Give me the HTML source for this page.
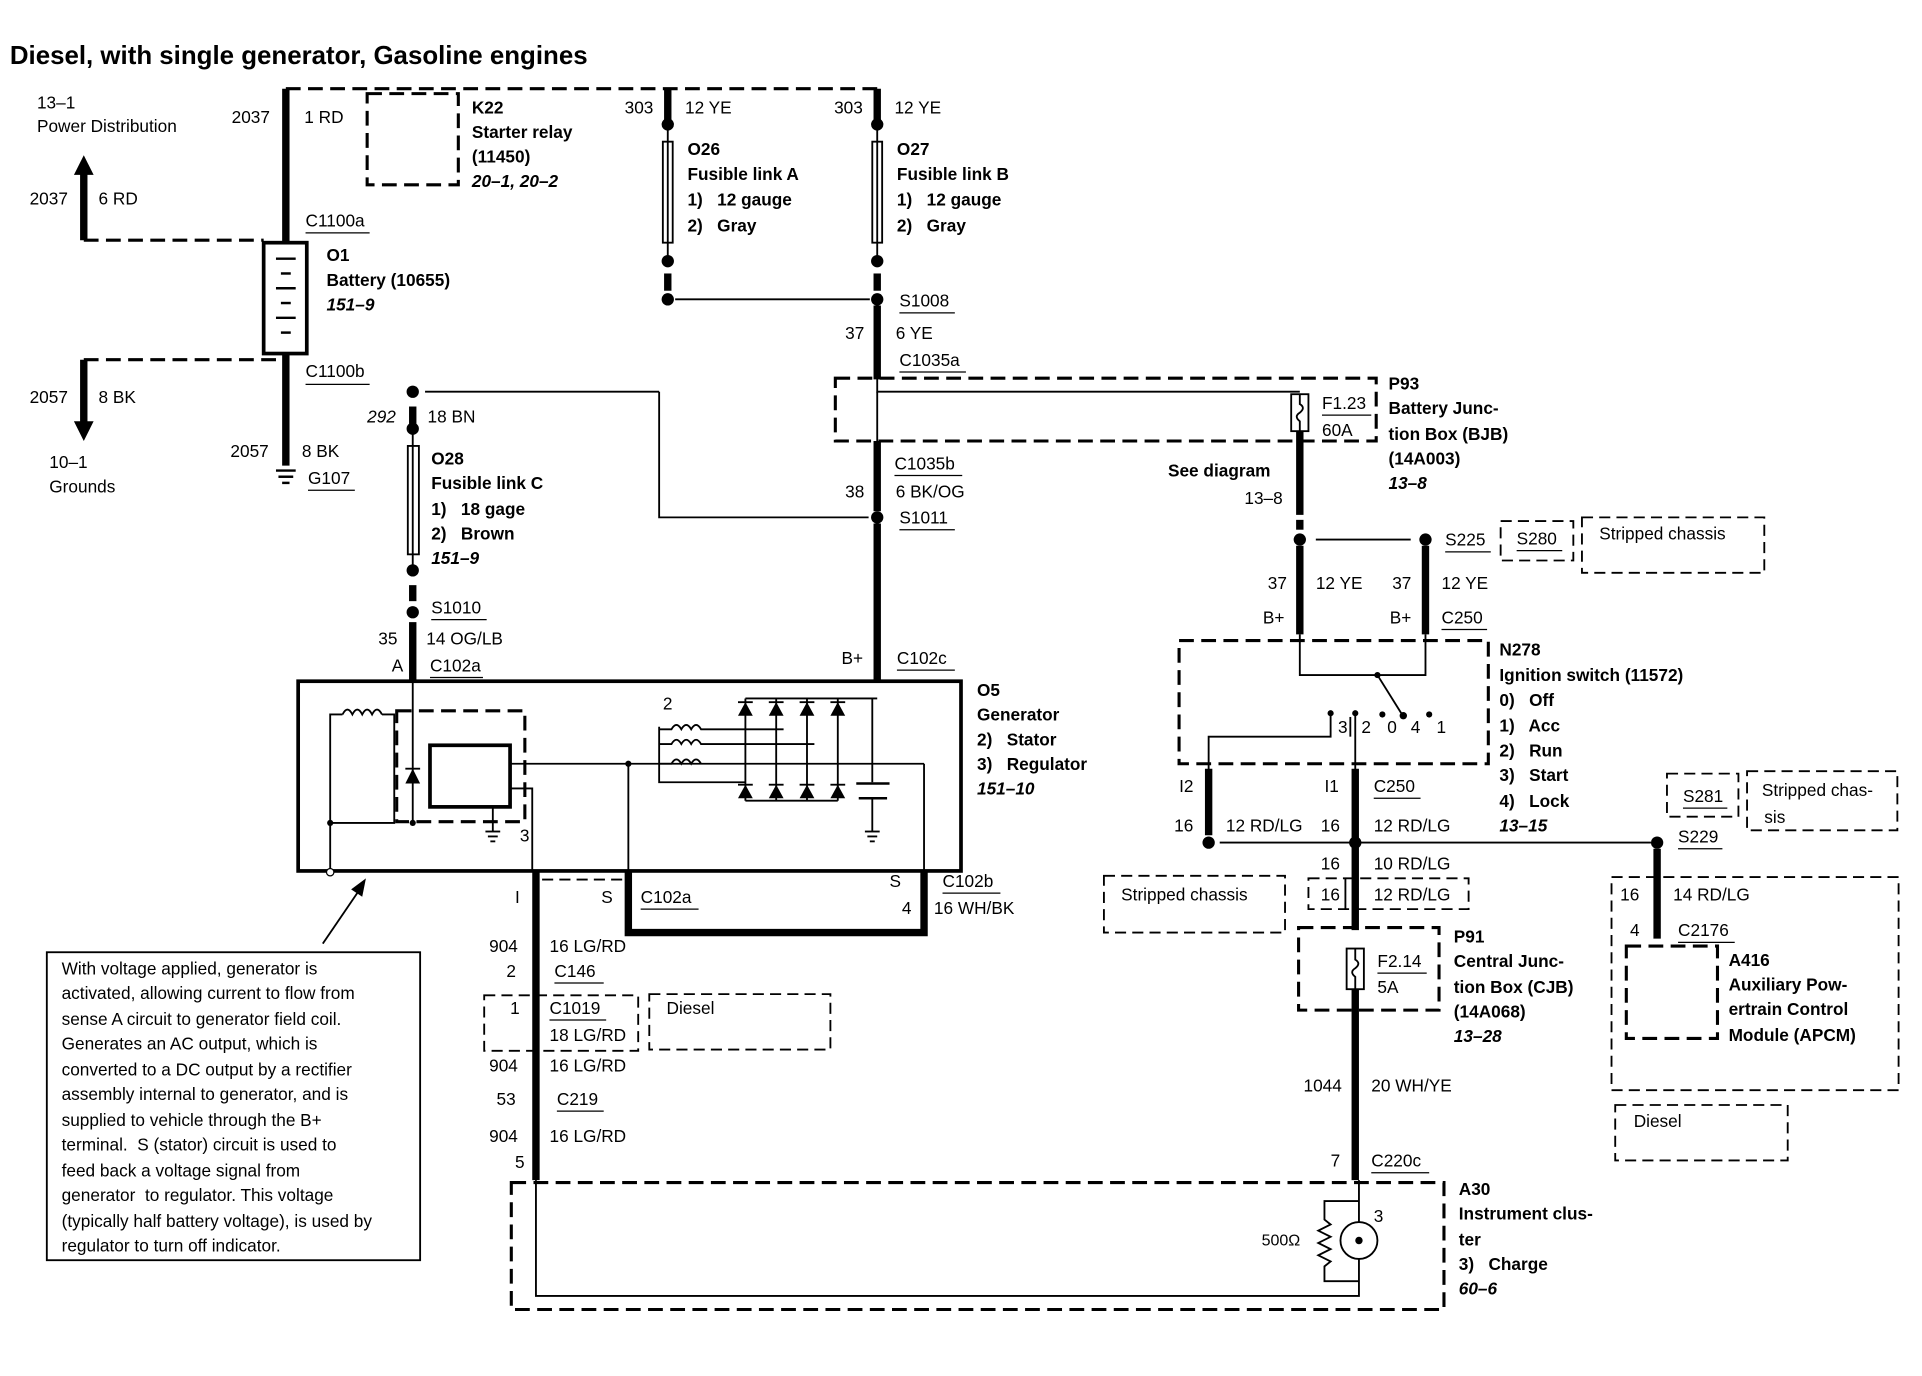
<!DOCTYPE html>
<html><head><meta charset="utf-8"><style>
html,body{margin:0;padding:0;background:#fff;}
svg{display:block}
text{font-family:"Liberation Sans",Arial,sans-serif;font-size:14px;fill:#000;white-space:pre}
.b{font-weight:bold}
.i{font-style:italic;font-weight:bold}
.th{stroke:#000;stroke-width:6;fill:none}
.tn{stroke:#000;stroke-width:1.5;fill:none}
.ds{stroke:#000;stroke-width:2.5;fill:none;stroke-dasharray:12,6}
.dd{stroke:#000;stroke-width:1.5;fill:none;stroke-dasharray:9,5}
.u{stroke:#000;stroke-width:1;}
</style></head><body>
<svg width="1922" height="1376" viewBox="0 0 1560 1117" preserveAspectRatio="none" xmlns="http://www.w3.org/2000/svg">
<text x="8" y="52" class="b" style="font-size:21px">Diesel, with single generator, Gasoline engines</text>

<text x="30" y="88">13–1</text><text x="30" y="107">Power Distribution</text>
<line class="th" x1="68" y1="195" x2="68" y2="140"/><polygon points="60,142 76,142 68,126"/>
<text x="24" y="166">2037</text><text x="80" y="166">6 RD</text>
<line class="ds" x1="68" y1="195" x2="214" y2="195"/>
<line class="th" x1="232" y1="72" x2="232" y2="197"/>
<text x="188" y="100">2037</text><text x="247" y="100">1 RD</text>
<line class="ds" x1="232" y1="72" x2="712" y2="72"/>
<rect class="ds" x="298" y="76" width="74" height="74"/>
<text x="383" y="92" class="b">K22</text><text x="383" y="112" class="b">Starter relay</text><text x="383" y="132" class="b">(11450)</text><text x="383" y="152" class="i">20–1, 20–2</text>
<text x="248" y="184">C1100a</text><line class="u" x1="248" y1="189" x2="300" y2="189"/>
<rect x="214" y="197" width="35" height="90" fill="none" stroke="#000" stroke-width="3"/>
<g stroke="#000" stroke-width="2"><line x1="224" y1="210" x2="240" y2="210"/><line x1="228" y1="222" x2="236" y2="222"/><line x1="224" y1="234" x2="240" y2="234"/><line x1="228" y1="246" x2="236" y2="246"/><line x1="224" y1="258" x2="240" y2="258"/><line x1="228" y1="270" x2="236" y2="270"/></g>
<text x="265" y="212" class="b">O1</text><text x="265" y="232" class="b">Battery (10655)</text><text x="265" y="252" class="i">151–9</text>
<line class="ds" x1="68" y1="292" x2="232" y2="292"/>
<line class="th" x1="68" y1="292" x2="68" y2="344"/><polygon points="60,342 76,342 68,358"/>
<text x="24" y="327">2057</text><text x="80" y="327">8 BK</text>
<text x="40" y="380">10–1</text><text x="40" y="400">Grounds</text>
<text x="248" y="306">C1100b</text><line class="u" x1="248" y1="312" x2="300" y2="312"/>
<line class="th" x1="232" y1="287" x2="232" y2="378"/>
<text x="187" y="371">2057</text><text x="245" y="371">8 BK</text>
<g stroke="#000" stroke-width="2"><line x1="224" y1="382" x2="240" y2="382"/><line x1="226" y1="387" x2="238" y2="387"/><line x1="229" y1="392" x2="235" y2="392"/></g>
<text x="250" y="393">G107</text><line class="u" x1="250" y1="398" x2="288" y2="398"/>

<g>
<line class="th" x1="542" y1="72" x2="542" y2="100"/><circle cx="542" cy="101" r="5"/>
<rect x="538" y="115" width="8" height="82" fill="none" stroke="#000" stroke-width="1.5"/>
<line class="tn" x1="542" y1="101" x2="542" y2="212"/><circle cx="542" cy="212" r="5"/>
<line class="th" x1="542" y1="222" x2="542" y2="236"/><circle cx="542" cy="243" r="5"/>
<text x="507" y="92">303</text><text x="556" y="92">12 YE</text>
<text x="558" y="126" class="b">O26</text><text x="558" y="146" class="b">Fusible link A</text><text x="558" y="167" class="b">1)   12 gauge</text><text x="558" y="188" class="b">2)   Gray</text>
</g>
<g>
<line class="th" x1="712" y1="72" x2="712" y2="100"/><circle cx="712" cy="101" r="5"/>
<rect x="708" y="115" width="8" height="82" fill="none" stroke="#000" stroke-width="1.5"/>
<line class="tn" x1="712" y1="101" x2="712" y2="212"/><circle cx="712" cy="212" r="5"/>
<line class="th" x1="712" y1="222" x2="712" y2="236"/><circle cx="712" cy="243" r="5"/>
<text x="677" y="92">303</text><text x="726" y="92">12 YE</text>
<text x="728" y="126" class="b">O27</text><text x="728" y="146" class="b">Fusible link B</text><text x="728" y="167" class="b">1)   12 gauge</text><text x="728" y="188" class="b">2)   Gray</text>
</g>
<line class="tn" x1="548" y1="243" x2="706" y2="243"/>
<text x="730" y="249">S1008</text><line class="u" x1="730" y1="254" x2="775" y2="254"/>
<line class="th" x1="712" y1="248" x2="712" y2="308"/>
<text x="686" y="275">37</text><text x="727" y="275">6 YE</text>
<text x="730" y="297">C1035a</text><line class="u" x1="730" y1="302" x2="784" y2="302"/>

<rect class="ds" x="678" y="307" width="439" height="51"/>
<polyline class="tn" points="712,307 712,318 1055,318"/><line class="tn" x1="712" y1="318" x2="712" y2="362"/>
<rect x="1048" y="320" width="14" height="30" fill="#fff" stroke="#000" stroke-width="1.5"/>
<path class="tn" d="M1055,320 v8 q5,3 0,7 q-5,3 0,7 v8"/>
<text x="1073" y="332">F1.23</text><line class="u" x1="1073" y1="337" x2="1113" y2="337"/><text x="1073" y="354">60A</text>
<text x="1127" y="316" class="b">P93</text><text x="1127" y="336" class="b">Battery Junc-</text><text x="1127" y="357" class="b">tion Box (BJB)</text><text x="1127" y="377" class="b">(14A003)</text><text x="1127" y="397" class="i">13–8</text>
<line class="th" x1="1055" y1="350" x2="1055" y2="418"/><line class="th" x1="1055" y1="422" x2="1055" y2="430"/>
<text x="948" y="387" class="b">See diagram</text><text x="1010" y="409">13–8</text>
<circle cx="1055" cy="438" r="5"/><circle cx="1157" cy="438" r="5"/><line class="tn" x1="1068" y1="438" x2="1145" y2="438"/>
<text x="1173" y="443">S225</text><line class="u" x1="1173" y1="448" x2="1210" y2="448"/>
<rect class="dd" x="1218" y="423" width="59" height="32"/><text x="1231" y="442">S280</text><line class="u" x1="1231" y1="447" x2="1268" y2="447"/>
<rect class="dd" x="1284" y="420" width="148" height="45"/><text x="1298" y="438">Stripped chassis</text>
<line class="th" x1="1055" y1="443" x2="1055" y2="515"/><line class="th" x1="1157" y1="443" x2="1157" y2="515"/>
<text x="1029" y="478">37</text><text x="1068" y="478">12 YE</text><text x="1130" y="478">37</text><text x="1170" y="478">12 YE</text>
<text x="1025" y="506">B+</text><text x="1128" y="506">B+</text><text x="1170" y="506">C250</text><line class="u" x1="1170" y1="511" x2="1207" y2="511"/>

<rect class="ds" x="957" y="520" width="251" height="100"/>
<polyline class="tn" points="1055,515 1055,548 1157,548 1157,515"/>
<line class="tn" x1="1118" y1="548" x2="1138" y2="580"/><circle cx="1118" cy="548" r="2.5"/><circle cx="1139" cy="581" r="3"/>
<circle cx="1080" cy="579" r="2.5"/><circle cx="1100" cy="579" r="2.5"/><circle cx="1122" cy="580" r="2.5"/><circle cx="1160" cy="580" r="2.5"/>
<text x="1086" y="595">3</text><line class="tn" x1="1096" y1="582" x2="1096" y2="598"/><text x="1105" y="595">2</text><text x="1126" y="595">0</text><text x="1145" y="595">4</text><text x="1166" y="595">1</text>
<polyline class="tn" points="1080,580 1080,598 981,598 981,625"/><line class="tn" x1="1100" y1="580" x2="1100" y2="625"/>
<text x="1217" y="532" class="b">N278</text><text x="1217" y="553" class="b">Ignition switch (11572)</text>
<text x="1217" y="573" class="b">0)   Off</text><text x="1217" y="594" class="b">1)   Acc</text><text x="1217" y="614" class="b">2)   Run</text><text x="1217" y="634" class="b">3)   Start</text><text x="1217" y="655" class="b">4)   Lock</text><text x="1217" y="675" class="i">13–15</text>
<line class="th" x1="981" y1="624" x2="981" y2="678"/><line class="th" x1="1100" y1="624" x2="1100" y2="755"/>
<text x="957" y="643">I2</text><text x="1075" y="643">I1</text><text x="1115" y="643">C250</text><line class="u" x1="1115" y1="648" x2="1153" y2="648"/>
<text x="953" y="675">16</text><text x="995" y="675">12 RD/LG</text><text x="1072" y="675">16</text><text x="1115" y="675">12 RD/LG</text>
<circle cx="981" cy="684" r="5"/><circle cx="1100" cy="684" r="5"/><circle cx="1345" cy="684" r="5"/>
<line class="tn" x1="990" y1="684" x2="1340" y2="684"/>
<text x="1362" y="684">S229</text><line class="u" x1="1362" y1="689" x2="1398" y2="689"/>
<rect class="dd" x="1353" y="628" width="58" height="35"/><text x="1366" y="651">S281</text><line class="u" x1="1366" y1="656" x2="1402" y2="656"/>
<rect class="dd" x="1418" y="626" width="122" height="48"/><text x="1430" y="646">Stripped chas-</text><text x="1432" y="668">sis</text>
<text x="1072" y="706">16</text><text x="1115" y="706">10 RD/LG</text>
<rect class="dd" x="1062" y="713" width="130" height="25"/><text x="1072" y="731">16</text><line class="tn" x1="1092" y1="713" x2="1092" y2="738"/><text x="1115" y="731">12 RD/LG</text>
<rect class="dd" x="896" y="711" width="147" height="46"/><text x="910" y="731">Stripped chassis</text>

<rect class="ds" x="1054" y="753" width="114" height="67"/>
<rect x="1093" y="770" width="14" height="33" fill="#fff" stroke="#000" stroke-width="1.5"/>
<path class="tn" d="M1100,770 v9 q5,3 0,7 q-5,3 0,7 v10"/>
<text x="1118" y="785">F2.14</text><line class="u" x1="1118" y1="790" x2="1158" y2="790"/><text x="1118" y="806">5A</text>
<text x="1180" y="765" class="b">P91</text><text x="1180" y="785" class="b">Central Junc-</text><text x="1180" y="806" class="b">tion Box (CJB)</text><text x="1180" y="826" class="b">(14A068)</text><text x="1180" y="846" class="i">13–28</text>
<line class="th" x1="1100" y1="803" x2="1100" y2="958"/>
<text x="1058" y="886">1044</text><text x="1113" y="886">20 WH/YE</text>
<text x="1080" y="947">7</text><text x="1113" y="947">C220c</text><line class="u" x1="1113" y1="952" x2="1160" y2="952"/>

<rect class="dd" x="1308" y="712" width="233" height="173"/>
<line class="th" x1="1345" y1="689" x2="1345" y2="762"/>
<text x="1315" y="731">16</text><text x="1358" y="731">14 RD/LG</text>
<text x="1323" y="760">4</text><text x="1362" y="760">C2176</text><line class="u" x1="1362" y1="765" x2="1408" y2="765"/>
<rect class="ds" x="1320" y="768" width="74" height="75"/>
<text x="1403" y="784" class="b">A416</text><text x="1403" y="804" class="b">Auxiliary Pow-</text><text x="1403" y="824" class="b">ertrain Control</text><text x="1403" y="845" class="b">Module (APCM)</text>
<rect class="dd" x="1311" y="897" width="140" height="45"/><text x="1326" y="915">Diesel</text>

<rect class="ds" x="415" y="960" width="757" height="103"/>
<polyline class="tn" points="435,958 435,1052 1103,1052 1103,958"/>
<circle cx="1103" cy="1007" r="15" fill="#fff" stroke="#000" stroke-width="1.5"/>
<circle cx="1103" cy="1007" r="3"/>
<polyline class="tn" points="1103,975 1075,975 1075,990 1080,994 1070,999 1080,1004 1070,1009 1080,1014 1070,1019 1080,1024 1075,1028 1075,1040 1103,1040"/>
<text x="1115" y="992">3</text><text x="1024" y="1011" style="font-size:13px">500Ω</text>
<text x="1184" y="970" class="b">A30</text><text x="1184" y="990" class="b">Instrument clus-</text><text x="1184" y="1011" class="b">ter</text><text x="1184" y="1031" class="b">3)   Charge</text><text x="1184" y="1051" class="i">60–6</text>

<circle cx="335" cy="318" r="5"/><line class="tn" x1="345" y1="318" x2="535" y2="318"/>
<polyline class="tn" points="535,318 535,420 705,420"/>
<line class="th" x1="335" y1="330" x2="335" y2="344"/><circle cx="335" cy="348" r="5"/>
<rect x="331" y="362" width="9" height="88" fill="none" stroke="#000" stroke-width="1.5"/>
<line class="tn" x1="335" y1="348" x2="335" y2="463"/><circle cx="335" cy="463" r="5"/>
<line class="th" x1="335" y1="475" x2="335" y2="488"/><circle cx="335" cy="497" r="5"/>
<text x="298" y="343" style="font-style:italic">292</text><text x="347" y="343">18 BN</text>
<text x="350" y="377" class="b">O28</text><text x="350" y="397" class="b">Fusible link C</text><text x="350" y="418" class="b">1)   18 gage</text><text x="350" y="438" class="b">2)   Brown</text><text x="350" y="458" class="i">151–9</text>
<text x="350" y="498">S1010</text><line class="u" x1="350" y1="503" x2="395" y2="503"/>
<line class="th" x1="335" y1="505" x2="335" y2="553"/>
<text x="307" y="523">35</text><text x="346" y="523">14 OG/LB</text><text x="318" y="545">A</text><text x="349" y="545">C102a</text><line class="u" x1="349" y1="550" x2="392" y2="550"/>
<text x="726" y="381">C1035b</text><line class="u" x1="726" y1="386" x2="781" y2="386"/>
<line class="th" x1="712" y1="358" x2="712" y2="415"/>
<text x="686" y="404">38</text><text x="727" y="404">6 BK/OG</text>
<circle cx="712" cy="420" r="5"/>
<text x="730" y="425">S1011</text><line class="u" x1="730" y1="430" x2="775" y2="430"/>
<line class="th" x1="712" y1="425" x2="712" y2="553"/>
<text x="683" y="539">B+</text><text x="728" y="539">C102c</text><line class="u" x1="728" y1="544" x2="775" y2="544"/>

<rect x="242" y="553" width="538" height="154" fill="none" stroke="#000" stroke-width="3"/>
<text x="793" y="565" class="b">O5</text><text x="793" y="585" class="b">Generator</text><text x="793" y="605" class="b">2)   Stator</text><text x="793" y="625" class="b">3)   Regulator</text><text x="793" y="645" class="i">151–10</text>
<line class="tn" x1="335" y1="553" x2="335" y2="668"/>
<polyline class="tn" points="268,706 268,580 278,580"/>
<path class="tn" d="M278,580 q4,-8 8,0 q4,-8 8,0 q4,-8 8,0 q4,-8 8,0"/>
<polyline class="tn" points="310,580 320,580 320,668 268,668"/>
<circle cx="268" cy="668" r="2.5"/><circle cx="335" cy="668" r="2.5"/><circle cx="268" cy="708" r="3" fill="#fff" stroke="#000"/>
<polygon points="329,636 341,636 335,624"/><line class="tn" x1="329" y1="624" x2="341" y2="624"/>
<rect class="ds" x="322" y="577" width="104" height="90"/>
<rect x="349" y="605" width="65" height="50" fill="none" stroke="#000" stroke-width="3"/>
<polyline class="tn" points="414,640 432,640 432,707"/>
<line class="tn" x1="414" y1="620" x2="750" y2="620"/><line class="tn" x1="750" y1="620" x2="750" y2="707"/>
<line class="tn" x1="510" y1="620" x2="510" y2="707"/><circle cx="510" cy="620" r="2.5"/>
<line class="tn" x1="400" y1="655" x2="400" y2="675"/>
<g stroke="#000" stroke-width="1.5"><line x1="394" y1="675" x2="406" y2="675"/><line x1="396" y1="679" x2="404" y2="679"/><line x1="398" y1="683" x2="402" y2="683"/></g>
<text x="538" y="576">2</text>
<polyline class="tn" points="535,590 535,635 605,635"/>
<g class="tn"><path d="M535,592 h10 q4,-7 8,0 q4,-7 8,0 q4,-7 8,0 h67"/><path d="M535,604 h10 q4,-7 8,0 q4,-7 8,0 q4,-7 8,0 h92"/><path d="M535,620 h10 q4,-7 8,0 q4,-7 8,0 q4,-7 8,0"/></g>
<line class="tn" x1="605" y1="567" x2="712" y2="567"/><line class="tn" x1="605" y1="650" x2="680" y2="650"/>
<g class="tn"><line x1="605" y1="567" x2="605" y2="650"/><line x1="630" y1="567" x2="630" y2="650"/><line x1="655" y1="567" x2="655" y2="650"/><line x1="680" y1="567" x2="680" y2="650"/><line x1="708" y1="567" x2="708" y2="635"/></g>
<g>
<polygon points="599,581 611,581 605,570"/><line class="tn" x1="599" y1="570" x2="611" y2="570"/>
<polygon points="624,581 636,581 630,570"/><line class="tn" x1="624" y1="570" x2="636" y2="570"/>
<polygon points="649,581 661,581 655,570"/><line class="tn" x1="649" y1="570" x2="661" y2="570"/>
<polygon points="674,581 686,581 680,570"/><line class="tn" x1="674" y1="570" x2="686" y2="570"/>
<polygon points="599,648 611,648 605,637"/><line class="tn" x1="599" y1="637" x2="611" y2="637"/>
<polygon points="624,648 636,648 630,637"/><line class="tn" x1="624" y1="637" x2="636" y2="637"/>
<polygon points="649,648 661,648 655,637"/><line class="tn" x1="649" y1="637" x2="661" y2="637"/>
<polygon points="674,648 686,648 680,637"/><line class="tn" x1="674" y1="637" x2="686" y2="637"/>
</g>
<g stroke="#000" stroke-width="2"><line x1="695" y1="636" x2="722" y2="636"/><line x1="697" y1="648" x2="720" y2="648"/></g>
<line class="tn" x1="708" y1="648" x2="708" y2="675"/>
<g stroke="#000" stroke-width="1.5"><line x1="702" y1="675" x2="714" y2="675"/><line x1="704" y1="679" x2="712" y2="679"/><line x1="706" y1="683" x2="710" y2="683"/></g>
<text x="422" y="683">3</text>

<line class="th" x1="435" y1="707" x2="435" y2="958"/>
<polyline class="th" points="510,707 510,757 750,757 750,707"/>
<line class="dd" x1="440" y1="714" x2="505" y2="714"/>
<text x="418" y="733">I</text><text x="488" y="733">S</text><text x="520" y="733">C102a</text><line class="u" x1="520" y1="738" x2="567" y2="738"/>
<text x="722" y="720">S</text><text x="765" y="720">C102b</text><line class="u" x1="765" y1="725" x2="812" y2="725"/>
<text x="732" y="742">4</text><text x="758" y="742">16 WH/BK</text>
<text x="397" y="773">904</text><text x="446" y="773">16 LG/RD</text>
<text x="411" y="793">2</text><text x="450" y="793">C146</text><line class="u" x1="450" y1="798" x2="490" y2="798"/>
<rect class="dd" x="393" y="808" width="125" height="45"/>
<text x="414" y="823">1</text><text x="446" y="823">C1019</text><line class="u" x1="446" y1="828" x2="492" y2="828"/><text x="446" y="845">18 LG/RD</text>
<rect class="dd" x="527" y="807" width="147" height="45"/><text x="541" y="823">Diesel</text>
<text x="397" y="870">904</text><text x="446" y="870">16 LG/RD</text>
<text x="403" y="897">53</text><text x="452" y="897">C219</text><line class="u" x1="452" y1="902" x2="490" y2="902"/>
<text x="397" y="927">904</text><text x="446" y="927">16 LG/RD</text>
<text x="418" y="948">5</text>

<rect x="38" y="773" width="303" height="250" fill="none" stroke="#000" stroke-width="1.5"/>
<g style="font-size:14px">
<text x="50" y="791">With voltage applied, generator is</text>
<text x="50" y="811">activated, allowing current to flow from</text>
<text x="50" y="832">sense A circuit to generator field coil.</text>
<text x="50" y="852">Generates an AC output, which is</text>
<text x="50" y="873">converted to a DC output by a rectifier</text>
<text x="50" y="893">assembly internal to generator, and is</text>
<text x="50" y="914">supplied to vehicle through the B+</text>
<text x="50" y="934">terminal.  S (stator) circuit is used to</text>
<text x="50" y="955">feed back a voltage signal from</text>
<text x="50" y="975">generator  to regulator. This voltage</text>
<text x="50" y="996">(typically half battery voltage), is used by</text>
<text x="50" y="1016">regulator to turn off indicator.</text>
</g>
<line class="tn" x1="262" y1="766" x2="292" y2="722"/><polygon points="297,713 285,722 294,728"/>
</svg>
</body></html>
